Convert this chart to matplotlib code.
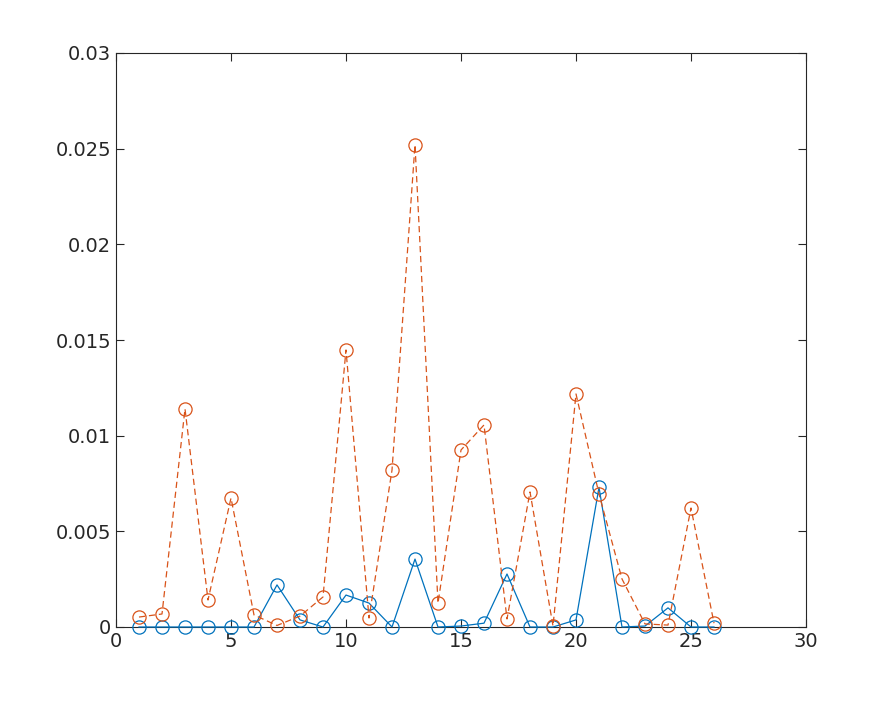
import matplotlib.pyplot as plt
import numpy as np

x = np.arange(1, 27)

bleu = [0, 0, 0, 0, 0, 0, 0.0022, 0.00037, 0, 0.00167, 0.00125, 0, 0.00355,
        0, 0.00005, 0.0002, 0.00277, 0, 0, 0.00037, 0.0073, 0, 0.00005, 0.001,
        0, 0]
orange = [0.00052, 0.00068, 0.0114, 0.00141, 0.00674, 0.00063, 0.00008, 0.00057,
          0.00157, 0.01448, 0.00047, 0.0082, 0.0252, 0.00125, 0.00925, 0.01056,
          0.00042, 0.00706, 0.00005, 0.01218, 0.00695, 0.00251, 0.00016, 0.0001,
          0.00622, 0.0002]

plt.rcParams['font.size'] = 14
plt.rcParams['font.family'] = 'DejaVu Sans'

fig = plt.figure(figsize=(8.91, 7.03), dpi=100)
ax = fig.add_axes([116/891, 76/703, 690/891, 574/703])

# marqueurs non coupés au bord, comme MATLAB
ax.plot(x, bleu, '-o', color='#0072BD', lw=0.9, markersize=9.5, fillstyle='none',
        markeredgewidth=0.9, clip_on=False, zorder=3)
ax.plot(x, orange, '--o', color='#D95319', lw=0.9, markersize=9.5, fillstyle='none',
        markeredgewidth=0.9, dashes=(5, 3), clip_on=False, zorder=3)

ax.set_xlim(0, 30)
ax.set_ylim(0, 0.03)
ax.set_xticks([0, 5, 10, 15, 20, 25, 30])
ax.set_yticks([0, 0.005, 0.01, 0.015, 0.02, 0.025, 0.03])
ax.set_yticklabels(['0', '0.005', '0.01', '0.015', '0.02', '0.025', '0.03'])
ax.tick_params(direction='in', top=True, right=True, length=6, width=0.8, colors='#262626')
for s in ax.spines.values():
    s.set_linewidth(0.8)
    s.set_color('#262626')

fig.savefig('out.png', dpi=100)
